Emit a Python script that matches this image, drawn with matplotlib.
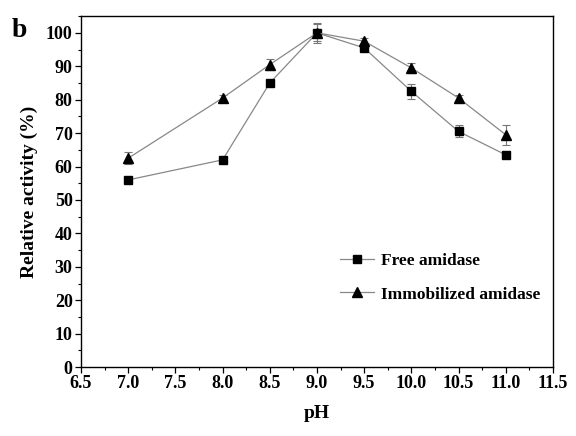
import matplotlib
matplotlib.use("Agg")
import matplotlib.pyplot as plt
from matplotlib.lines import Line2D
from matplotlib.ticker import MultipleLocator, FormatStrFormatter

ph = [7.0, 8.0, 8.5, 9.0, 9.5, 10.0, 10.5, 11.0]
free = [56.0, 62.0, 85.0, 100.0, 95.5, 82.5, 70.5, 63.5]
free_err = [0.8, 0.8, 0.8, 2.5, 1.0, 2.2, 1.8, 0.8]
immob = [62.5, 80.5, 90.5, 100.0, 97.5, 89.5, 80.5, 69.5]
immob_err = [1.8, 0.8, 1.6, 3.0, 1.0, 1.6, 0.8, 3.0]

plt.rcParams["font.family"] = ["Liberation Serif", "DejaVu Serif"]
plt.rcParams["font.weight"] = "bold"

fig = plt.figure(figsize=(5.76, 4.36), dpi=100)
ax = fig.add_axes([0.1406, 0.158, 0.8194, 0.805])

ax.errorbar(ph, free, yerr=free_err, color="#888888", lw=0.9, ecolor="#777777",
            elinewidth=0.8, capsize=3, capthick=0.8, marker="s", ms=6,
            mfc="black", mec="black")
ax.errorbar(ph, immob, yerr=immob_err, color="#888888", lw=0.9, ecolor="#777777",
            elinewidth=0.8, capsize=3, capthick=0.8, marker="^", ms=7,
            mfc="black", mec="black")

ax.set_xlim(6.5, 11.5)
ax.set_ylim(0, 105)
ax.xaxis.set_major_locator(MultipleLocator(0.5))
ax.xaxis.set_minor_locator(MultipleLocator(0.25))
ax.yaxis.set_major_locator(MultipleLocator(10))
ax.yaxis.set_minor_locator(MultipleLocator(5))
ax.xaxis.set_major_formatter(FormatStrFormatter("%.1f"))
ax.tick_params(which="major", direction="out", length=4, width=0.9, labelsize=13, pad=2)
ax.tick_params(which="minor", direction="out", length=2.5, width=0.8)
for s in ax.spines.values():
    s.set_linewidth(1.0)

ax.set_xlabel("pH", fontsize=14, fontweight="bold", labelpad=9)
ax.set_ylabel("Relative activity (%)", fontsize=14, fontweight="bold", labelpad=6)

handles = [
    Line2D([], [], color="#888888", lw=0.9, marker="s", ms=6, mfc="black", mec="black"),
    Line2D([], [], color="#888888", lw=0.9, marker="^", ms=7, mfc="black", mec="black"),
]
leg = ax.legend(handles, ["Free amidase", "Immobilized amidase"], loc="upper left",
                bbox_to_anchor=(0.515, 0.37), frameon=False, fontsize=12.5,
                handlelength=2.0, handletextpad=0.4, labelspacing=1.0)
for t in leg.get_texts():
    t.set_fontweight("bold")

fig.text(0.02, 0.915, "b", fontsize=20, fontweight="bold")

fig.savefig("out.png", dpi=100)
